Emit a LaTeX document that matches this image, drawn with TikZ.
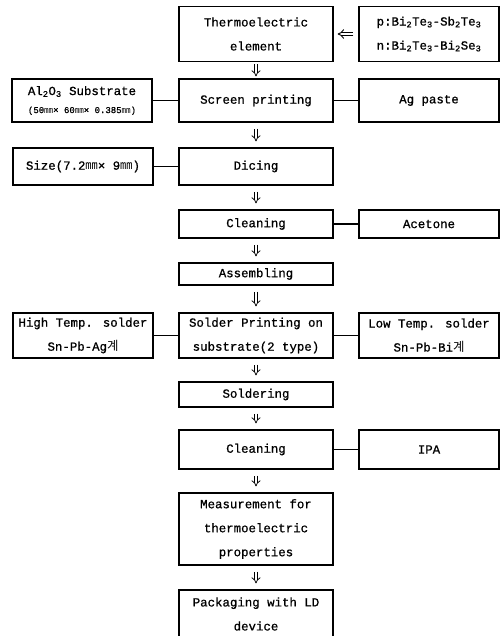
\documentclass[tikz,border=0pt]{standalone}
\usepackage{fontspec}
\setmainfont{Liberation Mono}[FakeBold=0.8]
\newfontfamily\kr{Noto Sans CJK KR}
\usetikzlibrary{arrows.meta}
\newcommand{\mmu}{{\kr ㎜}}
\newcommand{\sub}[1]{\textsubscript{#1}}
\begin{document}
\begin{tikzpicture}[x=1pt,y=-1pt,
  every node/.style =
   {draw,line width=1.2pt,align=center,inner sep=0pt,
    font=\fontsize{12.4}{24}\selectfont},
  mid/.style={minimum width=154pt},
  side/.style={minimum width=140pt},
  link/.style={line width=1.4pt},
  go/.style={double,double distance=2.4pt,line width=0.75pt,-{Implies},
    shorten <=6pt,shorten >=6pt}]
   \useasboundingbox (0,0) rectangle (500,636);
   \clip (0,0) rectangle (500,636);
   % main column
   \node[mid,minimum height=55pt] (te) at (256,34) {Thermoelectric\\element};
   \node[mid,minimum height=43pt] (sp) at (256,100.5) {Screen printing};
   \node[mid,minimum height=37pt] (dic) at (256,166.5) {Dicing};
   \node[mid,minimum height=28pt] (cla) at (256,224) {Cleaning};
   \node[mid,minimum height=22pt] (asm) at (256,274) {Assembling};
   \node[mid,minimum height=45pt] (spr) at (256,335.5) {Solder Printing on\\substrate(2 type)};
   \node[mid,minimum height=25pt] (sol) at (256,394.5) {Soldering};
   \node[mid,minimum height=39pt] (clb) at (256,449.5) {Cleaning};
   \node[mid,minimum height=72pt] (meas) at (256,529) {Measurement for\\thermoelectric\\properties};
   \node[mid,minimum height=48pt] (pack) at (256,614) {Packaging with LD\\device};
   % side boxes
   \node[side,minimum height=55pt] (pn) at (429,34)
     {p:Bi\sub{2}Te\sub{3}-Sb\sub{2}Te\sub{3}\\n:Bi\sub{2}Te\sub{3}-Bi\sub{2}Se\sub{3}};
   \node[side,minimum height=43pt] (al) at (82,100.5)
     {Al\sub{2}O\sub{3} Substrate\\[-6pt]{\fontsize{9}{12}\selectfont (50\mmu× 60\mmu× 0.385\mmu)}};
   \node[side,minimum height=43pt] (ag) at (429,100.5) {Ag paste};
   \node[side,minimum height=37pt] (size) at (83,166.5) {Size(7.2\mmu× 9\mmu)};
   \node[side,minimum height=28pt] (ace) at (429,224) {Acetone};
   \node[side,minimum height=45pt] (hts) at (83,335.5) {High Temp. solder\\Sn-Pb-Ag{\kr 계}};
   \node[side,minimum height=45pt] (lts) at (429,335.5) {Low Temp. solder\\Sn-Pb-Bi{\kr 계}};
   \node[side,minimum height=39pt] (ipa) at (429,449.5) {IPA};
   % arrows
   \draw[go,line width=0.9pt,shorten <=5pt,shorten >=4pt] (pn.west) -- (te.east);
   \draw[go,shorten <=2pt,shorten >=2pt] (te) -- (sp);
   \draw[go] (sp) -- (dic);
   \draw[go] (dic) -- (cla);
   \draw[go] (cla) -- (asm);
   \draw[go] (asm) -- (spr);
   \draw[go] (spr) -- (sol);
   \draw[go] (sol) -- (clb);
   \draw[go] (clb) -- (meas);
   \draw[go] (meas) -- (pack);
   % links
   \draw[link] (al) -- (sp)  (sp) -- (ag)
         (size) -- (dic)  (cla) -- (ace)
         (hts) -- (spr)  (spr) -- (lts)  (clb) -- (ipa);
\end{tikzpicture}
\end{document}
